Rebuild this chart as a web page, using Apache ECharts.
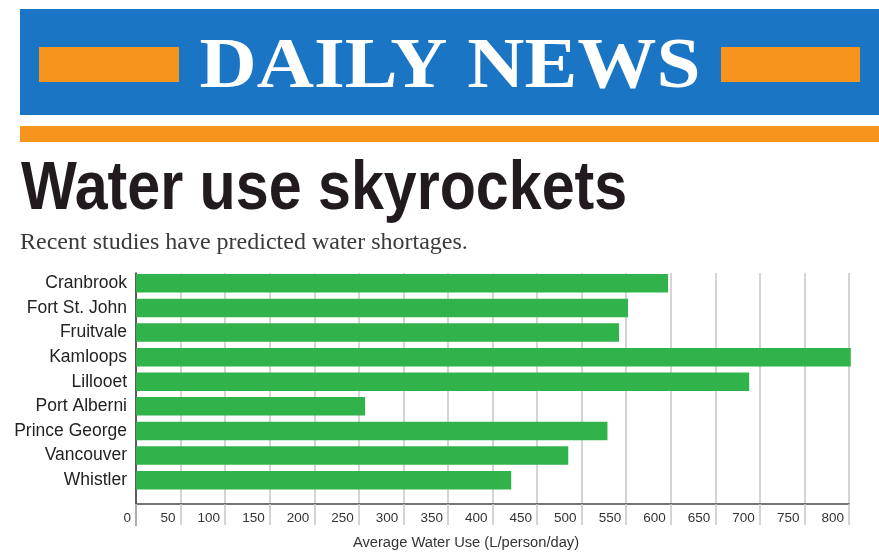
<!DOCTYPE html>
<html>
<head>
<meta charset="utf-8">
<script src="https://cdn.jsdelivr.net/npm/echarts@6/dist/echarts.min.js"></script>
<style>
html,body{margin:0;padding:0;background:#fff;}
#chart{width:879px;height:556px;}
</style>
</head>
<body>
<div id="chart"></div>
<script>
const categories = ['Cranbrook','Fort St. John','Fruitvale','Kamloops','Lillooet','Port Alberni','Prince George','Vancouver','Whistler'];
const waterUse = [597, 552, 542, 802, 688, 257, 529, 485, 421];
const xTicks = {min: 0, max: 800, interval: 50};
const headline = 'DAILY NEWS';
const titleText = 'Water use skyrockets';
const subtitleText = 'Recent studies have predicted water shortages.';
const xAxisName = 'Average Water Use (L/person/day)';

const sans = '"Liberation Sans", Arial, sans-serif';
const chart = echarts.init(document.getElementById('chart'), null, {renderer: 'canvas'});

chart.setOption({
  backgroundColor: '#ffffff',
  animation: false,
  graphic: [
    {type: 'rect', shape: {x: 20, y: 9, width: 859, height: 106}, style: {fill: '#1a75c4'}},
    {type: 'rect', shape: {x: 39, y: 47, width: 140, height: 35}, style: {fill: '#f7941d'}},
    {type: 'rect', shape: {x: 721, y: 47, width: 139, height: 35}, style: {fill: '#f7941d'}},
    {type: 'rect', shape: {x: 20, y: 126, width: 859, height: 16}, style: {fill: '#f7941d'}},
    {type: 'text', x: 450, y: 68, scaleX: 1.1, style: {
      text: headline, x: 0, y: 0, fill: '#ffffff', align: 'center', verticalAlign: 'middle',
      font: 'bold 72px "Liberation Serif", "Times New Roman", serif'}},
    {type: 'text', x: 21, y: 190, scaleX: 0.87, style: {
      text: titleText, x: 0, y: 0, fill: '#211a1e', align: 'left', verticalAlign: 'middle',
      font: 'bold 68px "Liberation Sans", Arial, sans-serif'}},
    {type: 'text', x: 20, y: 243, style: {
      text: subtitleText, x: 0, y: 0, fill: '#3a3a3a', align: 'left', verticalAlign: 'middle',
      font: '24px "Liberation Serif", "Times New Roman", serif'}},
    {type: 'text', x: 466, y: 543, style: {
      text: xAxisName, x: 0, y: 0, fill: '#333333', align: 'center', verticalAlign: 'middle',
      font: '14.7px ' + sans}}
  ],
  grid: [
    {left: 136, right: 30, top: 271, height: 221.5},
    {left: 136, right: 30, top: 273, bottom: 52},
    {left: 136, right: 30, top: 273, bottom: 31}
  ],
  xAxis: [
    {gridIndex: 0, type: 'value', min: xTicks.min, max: xTicks.max, interval: xTicks.interval, show: false},
    {gridIndex: 1, type: 'value', min: xTicks.min, max: xTicks.max, interval: xTicks.interval,
      axisLine: {show: true, lineStyle: {color: '#4a4a4a', width: 1.5}},
      axisTick: {show: true, length: 21, lineStyle: {color: '#c6c6c6', width: 1.5}},
      splitLine: {show: true, lineStyle: {color: '#c6c6c6', width: 1.5}},
      axisLabel: {show: true, align: 'right', margin: 7, padding: [0, 5, 0, 0], color: '#333',
        fontSize: 13.5, fontFamily: sans, showMinLabel: true, showMaxLabel: true}},
    {gridIndex: 2, type: 'value', min: xTicks.min, max: xTicks.max, show: false}
  ],
  yAxis: [
    {gridIndex: 0, type: 'category', data: categories, inverse: true,
      axisLine: {show: false}, axisTick: {show: false}, splitLine: {show: false},
      axisLabel: {interval: 0, margin: 9, color: '#222', fontSize: 17.5, fontFamily: sans}},
    {gridIndex: 1, type: 'value', show: false},
    {gridIndex: 2, type: 'value', axisLine: {show: true, lineStyle: {color: '#333', width: 1.5}},
      axisTick: {show: false}, axisLabel: {show: false}, splitLine: {show: false}}
  ],
  series: [
    {type: 'bar', xAxisIndex: 0, yAxisIndex: 0, data: waterUse, barWidth: 18.5, clip: false,
      itemStyle: {color: '#2fb34a'}, z: 3}
  ]
});
</script>
</body>
</html>
